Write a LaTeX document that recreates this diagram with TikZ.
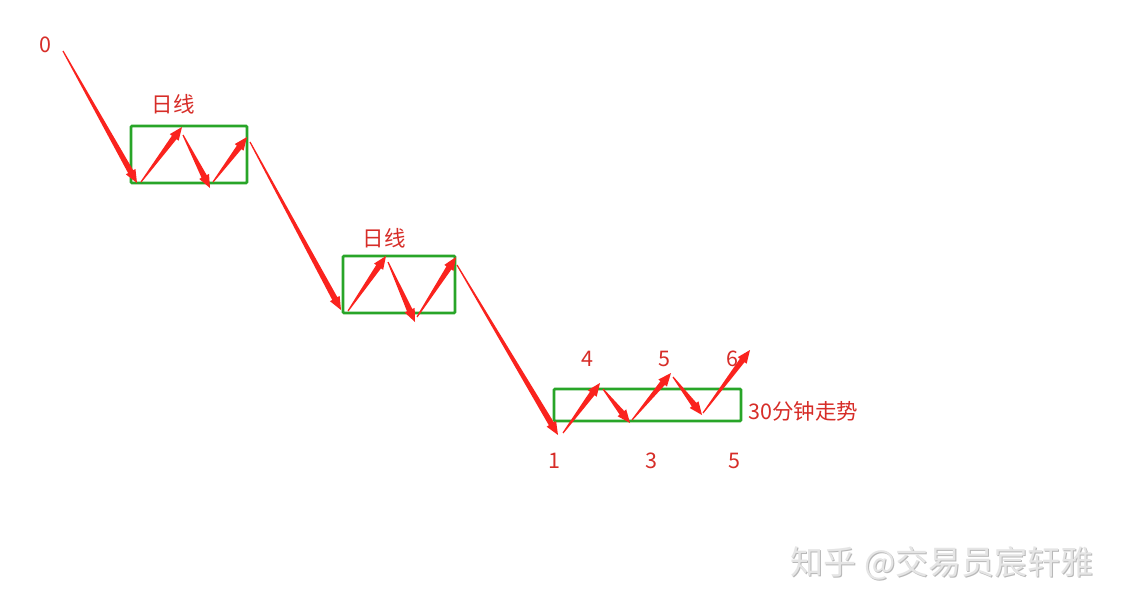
\documentclass[tikz,border=0pt]{standalone}
\usepackage{fontspec}
\newfontfamily\cjk{Noto Sans CJK SC}
\usetikzlibrary{calc}
\definecolor{arrred}{RGB}{250,35,30}
\definecolor{txtred}{RGB}{215,45,40}
\definecolor{boxgreen}{RGB}{40,165,40}
\newcommand\hl{13pt}
\newcommand\hw{5.5pt}
\newcommand\sw{2.9pt}
\newcommand\tarr[2]{%
  \fill[arrred] ($(#1)!0.6pt!90:(#2)$)
    -- ($(#2)!\hl!(#1)!\sw!-90:(#1)$)
    -- ($(#2)!\hl!(#1)!\hw!-90:(#1)$)
    -- (#2)
    -- ($(#2)!\hl!(#1)!\hw!90:(#1)$)
    -- ($(#2)!\hl!(#1)!\sw!90:(#1)$)
    -- ($(#1)!0.6pt!-90:(#2)$) -- cycle;}
\begin{document}
\begin{tikzpicture}[x=1pt,y=-1pt,
  lbl/.style={text=txtred,font=\cjk\fontsize{21.5}{25}\selectfont,inner sep=0pt},
  gbox/.style={draw=boxgreen,line width=2.8pt,rounded corners=1pt}]
\useasboundingbox[fill=white] (0,0) rectangle (1123,610);
% boxes
\draw[gbox] (131,126) rectangle (247,183);
\draw[gbox] (343,256) rectangle (455,313);
\draw[gbox] (554,389) rectangle (741,421);
% coordinates
\coordinate (a0) at (63,51);
\coordinate (a1) at (137,183);
\coordinate (b1) at (141,182);
\coordinate (b2) at (182,127);
\coordinate (c1) at (183,135);
\coordinate (c2) at (210,188);
\coordinate (d1) at (213,182);
\coordinate (d2) at (247,137);
\coordinate (e1) at (250,142);
\coordinate (e2) at (341,310);
\coordinate (f1) at (348,311);
\coordinate (f2) at (386,256);
\coordinate (g1) at (388,262);
\coordinate (g2) at (415,322);
\coordinate (h1) at (417,317);
\coordinate (h2) at (456,257);
\coordinate (i1) at (457,265);
\coordinate (i2) at (558,435);
\coordinate (j1) at (563,433);
\coordinate (j2) at (600,383);
\coordinate (k1) at (603,389);
\coordinate (k2) at (630,423);
\coordinate (l1) at (632,420);
\coordinate (l2) at (671,373);
\coordinate (m1) at (673,377);
\coordinate (m2) at (702,415);
\coordinate (n1) at (703,413);
\coordinate (n2) at (750,350);
% arrows
\tarr{a0}{a1}
\tarr{b1}{b2}
\tarr{c1}{c2}
\tarr{d1}{d2}
\tarr{e1}{e2}
\tarr{f1}{f2}
\tarr{g1}{g2}
\tarr{h1}{h2}
\tarr{i1}{i2}
\tarr{j1}{j2}
\tarr{k1}{k2}
\tarr{l1}{l2}
\tarr{m1}{m2}
\tarr{n1}{n2}
% labels
\node[lbl] (t0) at (45,45) {0};
\node[lbl] (tr1) at (173,104) {日线};
\node[lbl] (tr2) at (384,238) {日线};
\node[lbl] (t4) at (587,359) {4};
\node[lbl] (t5a) at (664,359) {5};
\node[lbl] (t6) at (732,359) {6};
\node[lbl,anchor=west] (t30) at (748,411) {30分钟走势};
\node[lbl] (t1) at (554,461) {1};
\node[lbl] (t3) at (651,461) {3};
\node[lbl] (t5b) at (734,461) {5};
% watermark
\node[text=black!28,font=\cjk\fontsize{33}{38}\selectfont,inner sep=0pt] (wms) at (943.2,564.2) {知乎 @交易员宸轩雅};
\node[text=black!10,font=\cjk\fontsize{33}{38}\selectfont,inner sep=0pt] (wm) at (942,563) {知乎 @交易员宸轩雅};
\end{tikzpicture}
\end{document}
